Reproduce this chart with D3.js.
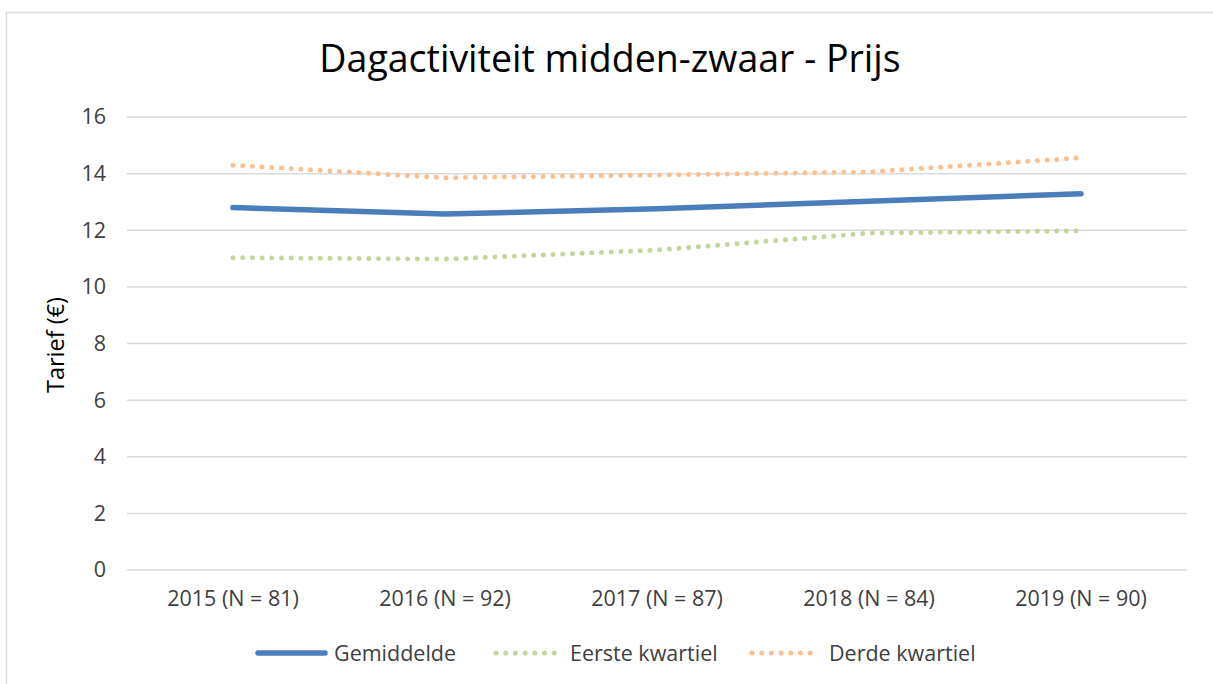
<!DOCTYPE html>
<html><head><meta charset="utf-8">
<script src="https://cdn.jsdelivr.net/npm/d3@7"></script>
<style>
html,body{margin:0;padding:0;background:#fff;}
svg{display:block;font-family:"Open Sans","Liberation Sans",sans-serif;}
</style></head>
<body><svg id="c" width="1213" height="684"></svg>
<script>
const categories = ["2015 (N = 81)","2016 (N = 92)","2017 (N = 87)","2018 (N = 84)","2019 (N = 90)"];
const gemiddelde = [12.80, 12.57, 12.76, 13.02, 13.29];
const eersteKwartiel = [11.03, 10.98, 11.30, 11.90, 11.98];
const derdeKwartiel = [14.30, 13.85, 13.95, 14.06, 14.56];
const yTicks = [0,2,4,6,8,10,12,14,16];
const seriesNames = ["Gemiddelde","Eerste kwartiel","Derde kwartiel"];
const title = "Dagactiviteit midden-zwaar - Prijs";
const yLabel = "Tarief (€)";

const svg = d3.select("#c");
const W = 1213, H = 684;
const m = {left:127, right:1187, top:117, bottom:570};

svg.append("rect").attr("x",6.5).attr("y",12.5).attr("width",W+10).attr("height",H+10)
  .attr("fill","#fff").attr("stroke","#d9d9d9").attr("stroke-width",1.5);

const x = d3.scaleBand().domain(categories).range([m.left,m.right]);
const y = d3.scaleLinear().domain([0,16]).range([m.bottom,m.top]);

// gridlines
svg.append("g").selectAll("line").data(yTicks).join("line")
  .attr("x1",m.left).attr("x2",m.right)
  .attr("y1",d=>y(d)).attr("y2",d=>y(d))
  .attr("stroke","#d9d9d9").attr("stroke-width",1.5);

// y axis labels
const yAxis = svg.append("g").attr("transform",`translate(${m.left},0)`)
  .call(d3.axisLeft(y).tickValues(yTicks).tickSize(0).tickPadding(21));
yAxis.select(".domain").remove();
yAxis.selectAll("text").attr("font-size",21.5).attr("fill","#404040")
  .attr("font-family",'"Open Sans",sans-serif');

// x axis labels
const xAxis = svg.append("g").attr("transform",`translate(0,${m.bottom})`)
  .call(d3.axisBottom(x).tickSize(0).tickPadding(21));
xAxis.select(".domain").remove();
xAxis.selectAll("text").attr("font-size",21.5).attr("fill","#404040")
  .attr("font-family",'"Open Sans",sans-serif');

const cx = d => x(d) + x.bandwidth()/2;
const line = d3.line().x((d,i)=>cx(categories[i])).y(d=>y(d));

const styles = [
  {data:gemiddelde, color:"#4a7ebb", width:5.5, dash:null, cap:"round"},
  {data:eersteKwartiel, color:"#c3d69b", width:5, dash:"0.1 9.6", cap:"round"},
  {data:derdeKwartiel, color:"#fac090", width:5, dash:"0.1 9.6", cap:"round"}
];
styles.forEach(s=>{
  svg.append("path").datum(s.data).attr("d",line)
    .attr("fill","none").attr("stroke",s.color).attr("stroke-width",s.width)
    .attr("stroke-linecap",s.cap).attr("stroke-linejoin","round")
    .attr("stroke-dasharray",s.dash);
});

// title
svg.append("text").attr("x",610).attr("y",72).attr("text-anchor","middle")
  .attr("font-size",37.5).attr("fill","#000").text(title);

// y label
svg.append("text").attr("transform","translate(64,345) rotate(-90)")
  .attr("text-anchor","middle").attr("font-size",23.5).attr("fill","#000").text(yLabel);

// legend
const legend = [
  {x:258, tx:334},
  {x:496, tx:570},
  {x:752, tx:829}
];
legend.forEach((l,i)=>{
  const s = styles[i];
  svg.append("line").attr("x1",l.x).attr("x2",l.x+67).attr("y1",653).attr("y2",653)
    .attr("stroke",s.color).attr("stroke-width",s.width)
    .attr("stroke-linecap","round").attr("stroke-dasharray",s.dash);
  svg.append("text").attr("x",l.tx).attr("y",661).attr("font-size",21.5)
    .attr("fill","#404040").text(seriesNames[i]);
});
</script></body></html>
